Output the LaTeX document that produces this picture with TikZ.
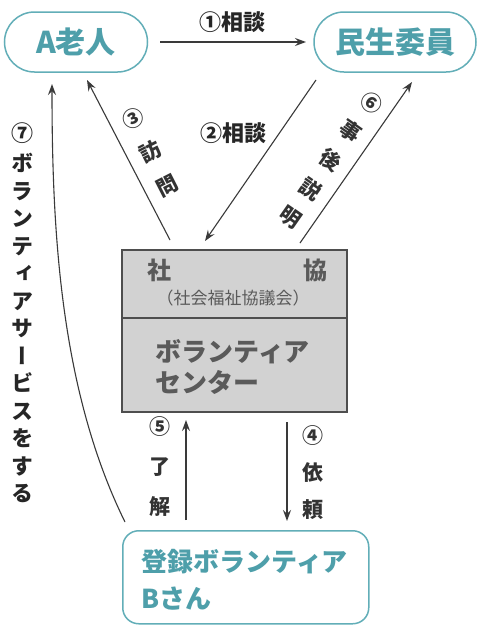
\documentclass[tikz,border=0pt]{standalone}
\usepackage{fontspec}
\usetikzlibrary{arrows.meta}
\newfontfamily\jp{Noto Sans CJK JP}
\newfontfamily\jpv{Noto Sans CJK JP}[RawFeature=+vert]
\definecolor{tealc}{HTML}{4E9FAA}
\definecolor{tealb}{HTML}{62AEB8}
\definecolor{boxfill}{HTML}{D2D2D2}
\definecolor{boxtext}{HTML}{5A5A5A}
\definecolor{linec}{HTML}{3A3A3A}
\tikzset{
  pill/.style={draw=tealb, line width=1.5pt, rounded corners=30pt, text=tealc, font=\jp\bfseries\fontsize{30}{30}\selectfont},
  conn/.style={draw=linec, line width=1.1pt, -{Stealth[length=11pt,width=8pt,inset=4pt]}},
  lbl/.style={font=\jp\bfseries\fontsize{22}{22}\selectfont, text=black!85},
  stack/.style={align=center, font=\jp\bfseries\fontsize{21}{#1}\selectfont, text=black!80},
  boxt/.style={text=boxtext, font=\jp\bfseries\fontsize{25}{31}\selectfont}
}
\begin{document}
\begin{tikzpicture}[x=1pt,y=-1pt]
\useasboundingbox (0,0) rectangle (481,632);
\fill[white] (0,0) rectangle (481,632);
% nodes
\node[pill, minimum width=143pt, minimum height=60pt] (old) at (76,42) {A老人};
\node[pill, minimum width=162pt, minimum height=60pt] (min) at (395,42) {民生委員};
\draw[draw=linec!90, fill=boxfill, line width=1.2pt] (122,250) rectangle (347,412);
\node[minimum width=225pt, minimum height=162pt, anchor=north west] (box) at (122,250) {};
\draw[draw=linec!90, line width=1.2pt] (122,318) -- (347,318);
\node[boxt, text width=180pt, font=\jp\bfseries\fontsize{24}{24}\selectfont] (sk) at (237,270) {社\hfill 協};
\node[boxt, font=\jp\fontsize{17}{17}\selectfont] (skf) at (233,298) {（社会福祉協議会）};
\node[boxt, align=left, anchor=west, font=\jp\bfseries\fontsize{26}{31}\selectfont] (vc) at (152,367) {ボランティア\\センター};
\node[draw=tealb, line width=1.5pt, rounded corners=16pt, minimum width=246pt, minimum height=93pt, anchor=north west] (vol) at (122,530) {};
\node[align=left, anchor=west, text=tealc, font=\jp\bfseries\fontsize{26}{37}\selectfont] (volt) at (138,580) {登録ボランティア\\Bさん};
% coordinates
\coordinate (c1s) at (160,42);
\coordinate (c1e) at (306,42);
\coordinate (c3s) at (170,240);
\coordinate (c3e) at (87,80);
\coordinate (c2s) at (316,80);
\coordinate (c2e) at (205,241);
\coordinate (c6s) at (300,243);
\coordinate (c6e) at (412,82);
\coordinate (c7s) at (125,522);
\coordinate (c7e) at (52,84);
\coordinate (c5s) at (186,520);
\coordinate (c5e) at (186,420);
\coordinate (c4s) at (287,422);
\coordinate (c4e) at (287,521);
% connectors
\draw[conn] (c1s) -- (c1e);
\draw[conn] (c3s) -- (c3e);
\draw[conn] (c2s) -- (c2e);
\draw[conn] (c6s) -- (c6e);
\draw[conn] (c7s) .. controls (60,390) and (52,230) .. (c7e);
\draw[conn] (c5s) -- (c5e);
\draw[conn] (c4s) -- (c4e);
% labels
\node[lbl] (l1) at (232,22) {①相談};
\node[lbl] (l2) at (233,133) {②相談};
\node[stack=38, rotate=27] (l3) at (150,152) {③\\訪\\問};
\node[stack=35, rotate=-35] (l6) at (331,160) {⑥\\事\\後\\説\\明};
\node[stack=40] (l5) at (160,467) {⑤\\了\\解};
\node[stack=37] (l4) at (313,473) {④\\依\\頼};
\node[lbl] (l7) at (22,133) {⑦};
\node[align=center, anchor=north, text=black!85, font=\jpv\bfseries\fontsize{22}{27.5}\selectfont] (l7t) at (22,150) {ボ\\ラ\\ン\\テ\\ィ\\ア\\サ\\ー\\ビ\\ス\\を\\す\\る};
\end{tikzpicture}
\end{document}
